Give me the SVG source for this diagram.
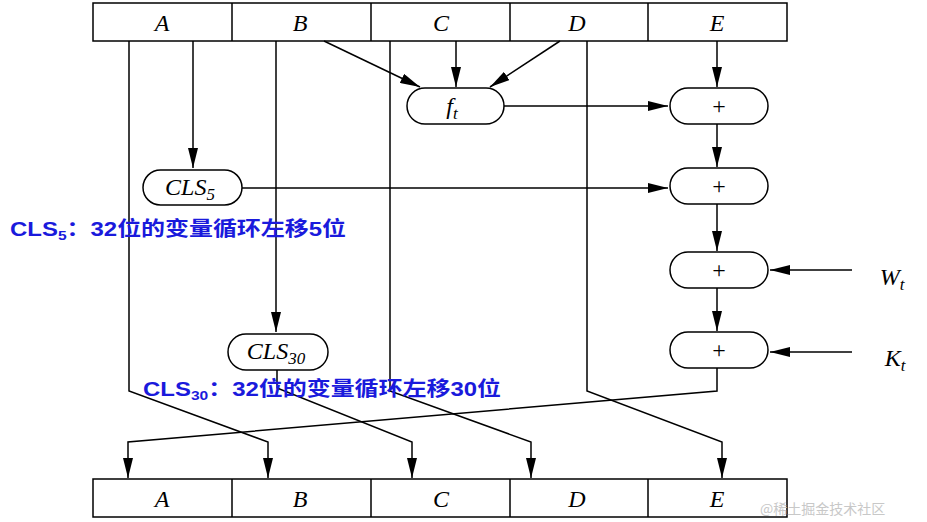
<svg xmlns="http://www.w3.org/2000/svg" width="927" height="522" viewBox="0 0 927 522">
<style>
.l{stroke:#000;stroke-width:1.5;fill:none}
.b{stroke:#000;stroke-width:1.5;fill:#fff}
.t{font-family:"Liberation Serif",serif;font-style:italic;font-size:24px;text-anchor:middle}
.p{font-family:"Liberation Serif",serif;font-size:24px;text-anchor:middle}
.c{font-family:"Liberation Sans","Noto Sans CJK SC",sans-serif;font-weight:bold;font-size:20px;fill:#1a1adc}
</style>
<defs><marker id="ab" markerWidth="20" markerHeight="10" refX="20" refY="5" orient="auto" markerUnits="userSpaceOnUse" viewBox="0 0 20 10"><path d="M0,0L20,5L0,10Z"/></marker></defs>
<rect width="927" height="522" fill="#fff"/>
<g id="top"><rect class="b" x="93" y="3" width="694" height="38"/><path class="l" d="M232,3V41M371,3V41M510,3V41M648,3V41"/>
<text class="t" x="162" y="31">A</text><text class="t" x="300" y="31">B</text><text class="t" x="441" y="31">C</text><text class="t" x="577" y="31">D</text><text class="t" x="717" y="31">E</text></g>
<g id="bottom"><rect class="b" x="93" y="479" width="694" height="38"/><path class="l" d="M232,479V517M371,479V517M510,479V517M648,479V517"/>
<text class="t" x="162" y="507">A</text><text class="t" x="300" y="507">B</text><text class="t" x="441" y="507">C</text><text class="t" x="577" y="507">D</text><text class="t" x="717" y="507">E</text></g>
<g id="connectors">
<path class="l" marker-end="url(#ab)" d="M193,41V168"/>
<path class="l" marker-end="url(#ab)" d="M276,41V332"/>
<path class="l" marker-end="url(#ab)" d="M324,41L420,87"/>
<path class="l" marker-end="url(#ab)" d="M456,41V87"/>
<path class="l" marker-end="url(#ab)" d="M560,41L490,87"/>
<path class="l" marker-end="url(#ab)" d="M717,41V87"/>
<path class="l" marker-end="url(#ab)" d="M504,106H668"/>
<path class="l" marker-end="url(#ab)" d="M242,188H668"/>
<path class="l" marker-end="url(#ab)" d="M717,124V167"/>
<path class="l" marker-end="url(#ab)" d="M717,204V251"/>
<path class="l" marker-end="url(#ab)" d="M717,288V331"/>
<path class="l" marker-end="url(#ab)" d="M852,270H770"/>
<path class="l" marker-end="url(#ab)" d="M852,352H770"/>
<path class="l" marker-end="url(#ab)" d="M129,41V391L268,442V478"/>
<path class="l" marker-end="url(#ab)" d="M277,370V388L412,442V478"/>
<path class="l" marker-end="url(#ab)" d="M390,41V391L531,442V478"/>
<path class="l" marker-end="url(#ab)" d="M587,41V391L722,442V478"/>
<path class="l" marker-end="url(#ab)" d="M717,368V391L128,442V478"/>
</g>
<g id="ft"><rect class="b" x="407" y="88" width="97" height="36" rx="18"/><text class="t" x="452" y="114">f<tspan font-size="17" dy="5">t</tspan></text></g>
<g id="add1"><rect class="b" x="670" y="88" width="98" height="36" rx="18"/><text class="p" x="719" y="114">+</text></g>
<g id="add2"><rect class="b" x="670" y="168" width="98" height="36" rx="18"/><text class="p" x="719" y="194">+</text></g>
<g id="add3"><rect class="b" x="670" y="252" width="98" height="36" rx="18"/><text class="p" x="719" y="278">+</text></g>
<g id="add4"><rect class="b" x="670" y="332" width="98" height="36" rx="18"/><text class="p" x="719" y="358">+</text></g>
<g id="cls5"><rect class="b" x="143" y="170" width="99" height="35" rx="17.5"/><text class="t" x="190" y="195">CLS<tspan font-size="17" dy="5">5</tspan></text></g>
<g id="cls30"><rect class="b" x="228" y="334" width="100" height="36" rx="18"/><text class="t" x="276" y="359">CLS<tspan font-size="17" dy="5">30</tspan></text></g>
<text class="t" x="892" y="285">W<tspan font-size="17" dy="5">t</tspan></text>
<text class="t" x="895" y="366">K<tspan font-size="17" dy="5">t</tspan></text>
<text class="c" x="10" y="236" textLength="336" lengthAdjust="spacingAndGlyphs">CLS<tspan font-size="13" dy="4">5</tspan><tspan dy="-4">：32位的变量循环左移5位</tspan></text>
<text class="c" x="143" y="396" textLength="358" lengthAdjust="spacingAndGlyphs">CLS<tspan font-size="13" dy="4">30</tspan><tspan dy="-4">：32位的变量循环左移30位</tspan></text>
<text x="760" y="514" font-family="'Noto Sans CJK SC',sans-serif" font-size="14" fill="#c8c8c8">@稀土掘金技术社区</text>
</svg>
